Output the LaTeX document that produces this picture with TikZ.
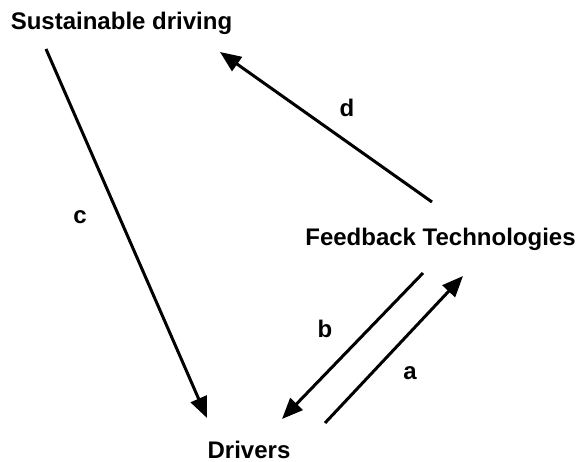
\documentclass[tikz,border=0pt]{standalone}
\usepackage{fontspec}
\setmainfont{Liberation Sans}
\usetikzlibrary{arrows.meta}
\tikzset{
  lbl/.style={font=\fontsize{24}{28}\selectfont\bfseries, inner sep=0pt, anchor=base},
  conn/.style={line width=3pt, -{Triangle[length=21pt,width=17pt]}}
}
\begin{document}
\begin{tikzpicture}[x=1pt,y=-1pt]
\useasboundingbox (0,0) rectangle (577,462);
\node[lbl] (sd) at (121.5,30) {Sustainable driving};
\node[lbl] (ft) at (440.5,245.5) {Feedback Technologies};
\node[lbl] (dr) at (249,458) {Drivers};
\node[lbl] (la) at (410,379) {a};
\node[lbl] (lb) at (325,337) {b};
\node[lbl] (lc) at (80,223) {c};
\node[lbl] (ld) at (347,117) {d};
\coordinate (cS) at (46,49);
\coordinate (cE) at (207,418);
\coordinate (dS) at (432,202);
\coordinate (dE) at (220,52);
\coordinate (bS) at (423,273);
\coordinate (bE) at (282,419);
\coordinate (aS) at (325,423);
\coordinate (aE) at (463,276);
\draw[conn] (cS) -- (cE);
\draw[conn] (dS) -- (dE);
\draw[conn] (bS) -- (bE);
\draw[conn] (aS) -- (aE);
\end{tikzpicture}
\end{document}
